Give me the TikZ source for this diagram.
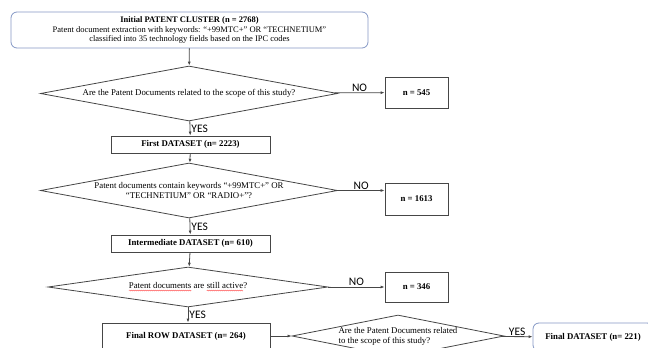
\documentclass[tikz,border=0pt]{standalone}
\usepackage{fontspec}
\setmainfont{Liberation Serif}
\newfontfamily\labelfont{Carlito}
\usetikzlibrary{shapes.geometric,arrows.meta,positioning,decorations.pathmorphing}
\definecolor{edgeblue}{RGB}{132,151,196}
\definecolor{linegray}{RGB}{70,70,70}
\newcommand\spellmark[1]{\tikz[baseline=(w.base)]{\node[rectangle, draw=none, minimum width=0pt, minimum height=0pt,
      inner sep=0pt, outer sep=0pt] (w) {#1};
    \draw[red!75, line width=0.35pt, decorate, decoration={snake, amplitude=0.5pt, segment length=2pt}]
      ([yshift=-1.6pt]w.base west) -- ([yshift=-1.6pt]w.base east);}}

\begin{document}
\begin{tikzpicture}[
    x=1pt, y=-1pt,
    >={Latex[length=4pt, width=3pt]},
    every node/.style={font=\fontsize{8.8}{9.8}\selectfont},
    every edge/.style={draw=linegray, line width=0.8pt},
    roundbox/.style={
        rectangle, rounded corners=6pt, draw=edgeblue, line width=0.8pt, inner sep=1pt
      },
    plainbox/.style={
        rectangle, draw=linegray, line width=0.8pt, inner sep=1pt
      },
    decision/.style={
        diamond, draw=linegray, line width=0.8pt, inner sep=0pt
      },
    answer/.style={font=\labelfont\fontsize{11.5}{12}\selectfont, inner sep=1pt},
  ]
  \useasboundingbox (0,0) rectangle (648,348);
  \clip (0,0) rectangle (648,348);

  \node[roundbox, minimum width=357pt, minimum height=36pt, align=center,
    font=\fontsize{8.5}{9.8}\selectfont] (cluster) at (189.5,30)
    {\textbf{Initial PATENT CLUSTER (n = 2768)}\\
     Patent document extraction with keywords: “+99MTC+” OR “TECHNETIUM”\\
     classified into 35 technology fields based on the IPC codes};

  % decisions
  \node[decision, aspect=5.4, minimum width=297pt, minimum height=55pt] (q1) at (189,93.5)
    {Are the Patent Documents related to the scope of this study?};
  \node[decision, aspect=5.4, minimum width=297pt, minimum height=55pt, align=center] (q2) at (189,190.5)
    {Patent documents contain keywords “+99MTC+” OR\\“TECHNETIUM” OR “RADIO+”?};
  \node[decision, aspect=7, minimum width=280pt, minimum height=40pt] (q3) at (188,287)
    {\spellmark{Patent documents} are \spellmark{still active}?};
  \node[decision, aspect=5, inner xsep=-8pt, minimum width=212pt, minimum height=42pt, align=left] (q4) at (398,336)
    {Are the Patent Documents related\\to the scope of this study?};

  % datasets
  \node[plainbox, minimum width=159pt, minimum height=17pt] (ds1) at (190.5,144.5) {\textbf{First DATASET (n= 2223)}};
  \node[plainbox, minimum width=159pt, minimum height=17pt] (ds2) at (190.5,243.5) {\textbf{Intermediate DATASET (n= 610)}};
  \node[plainbox, minimum width=168pt, minimum height=26pt] (ds3) at (186,336) {\textbf{Final ROW DATASET (n= 264)}};
  \node[roundbox, minimum width=120pt, minimum height=28pt] (final) at (593,337) {\textbf{Final DATASET (n= 221)}};

  % excluded
  \node[plainbox, minimum width=63pt, minimum height=31pt] (n545) at (416.5,92.5) {\textbf{n = 545}};
  \node[plainbox, minimum width=63pt, minimum height=32pt] (n1613) at (416.5,199) {\textbf{n = 1613}};
  \node[plainbox, minimum width=63pt, minimum height=30pt] (n346) at (416.5,287) {\textbf{n = 346}};

  \path[->]
    (cluster) edge (q1)
    (q1) edge node[answer, above]{NO} (n545)
    (q1) edge node[answer, right]{YES} (ds1)
    (ds1) edge (q2)
    (q2.east) edge node[answer, above]{NO} (q2.east -| n1613.west)
    (q2) edge node[answer, right]{YES} (ds2)
    (ds2) edge (q3)
    (q3) edge node[answer, above]{NO} (n346)
    (q3.south) edge node[answer, right]{YES} (q3.south |- ds3.north)
    (ds3) edge (q4)
    (q4) edge node[answer, above]{YES} (final)
  ;
\end{tikzpicture}
\end{document}
